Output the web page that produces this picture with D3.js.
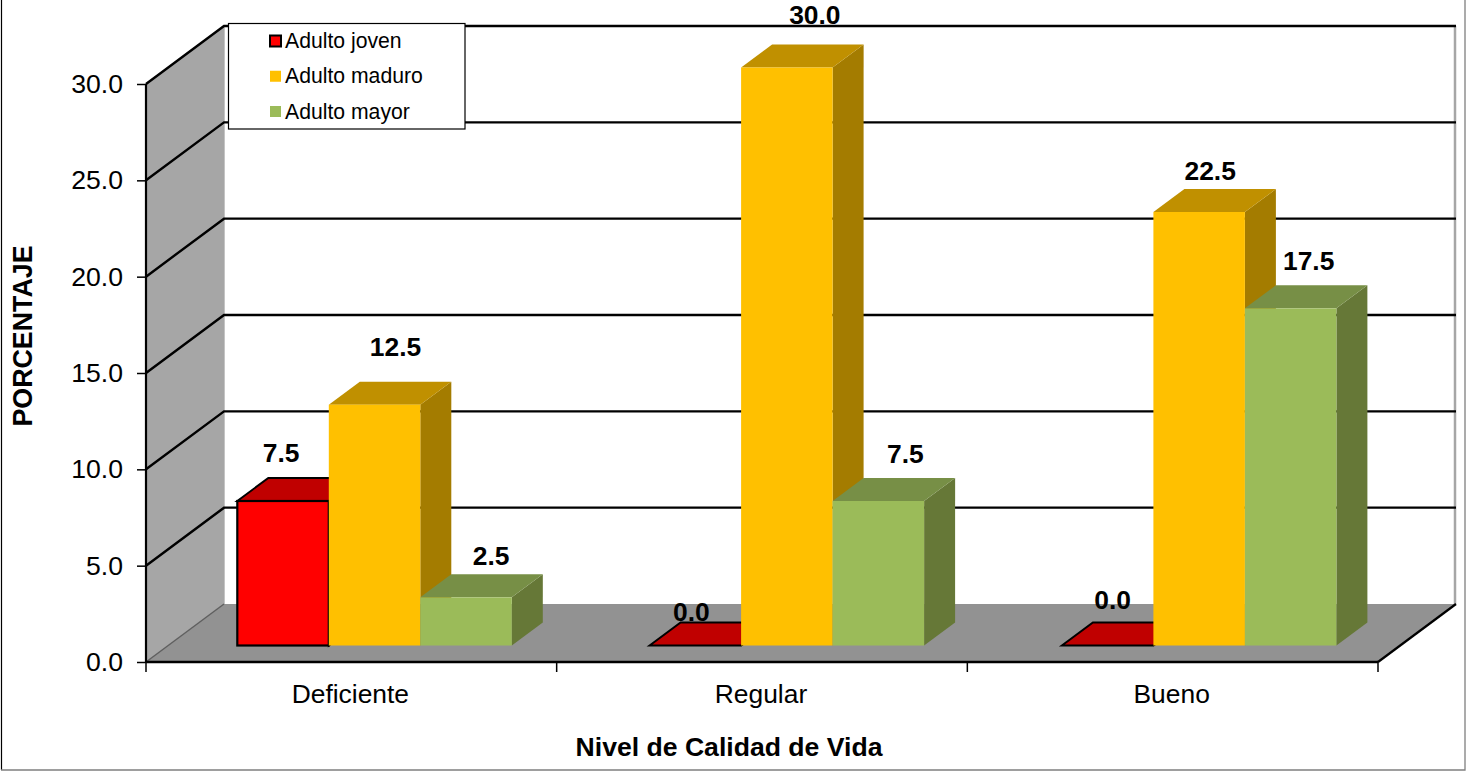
<!DOCTYPE html>
<html lang="es">
<head>
<meta charset="utf-8">
<title>Nivel de Calidad de Vida</title>
<script src="https://cdn.jsdelivr.net/npm/d3@7"></script>
<style>
  html, body { margin: 0; padding: 0; background: #fff; }
  svg { display: block; }
  text { font-family: "Liberation Sans", Arial, sans-serif; fill: #000; }
</style>
</head>
<body>
<svg id="chart" width="1466" height="771"></svg>
<script>
// Percentages by quality-of-life level and age group
const categories = ["Deficiente", "Regular", "Bueno"];
const seriesNames = ["Adulto joven", "Adulto maduro", "Adulto mayor"];
const adultoJoven = [7.5, 0.0, 0.0];
const adultoMaduro = [12.5, 30.0, 22.5];
const adultoMayor = [2.5, 7.5, 17.5];
const seriesValues = [adultoJoven, adultoMaduro, adultoMayor];
const yTicks = [0, 5, 10, 15, 20, 25, 30];

// Face shades for each series: front, top, side
const faceColors = [
  { front: "#FF0000", top: "#C00000", side: "#A00000" },
  { front: "#FFC000", top: "#C09000", side: "#A47C00" },
  { front: "#9BBB59", top: "#778F46", side: "#667837" }
];

// Hand-placed label offsets from the centre of each bar's front face
const labelShift = [
  [[-2, -39], [21, -48.5], [25, -32]],
  [[-4, -25], [28, -44], [27, -38]],
  [[5, -37], [11, -32], [18, -38]]
];

// Oblique projection: the full chart depth and the depth of one bar
const depth = { dx: 78, dy: -58 };
const barDepth = { dx: 31, dy: -23 };
const barInset = { dy: -16.5 };

const plot = { left: 146, right: 1378, bottom: 662, top: 84 };

const y = d3.scaleLinear().domain([0, 30]).range([plot.bottom, plot.top]);
const xCat = d3.scaleBand().domain(categories).range([plot.left, plot.right]);
// Bars sit inset on the floor, so their groups use a slightly wider band than the axis
const xGroup = d3.scaleBand().domain(categories).range([168.4, 168.4 + 3 * 412.3]);
const xBar = d3.scaleBand().domain(d3.range(seriesNames.length))
  .range([0, xGroup.bandwidth()]).paddingInner(0).paddingOuter(0.753);

const svg = d3.select("#chart");
const poly = pts => pts.map(p => p.join(",")).join(" ");

// Outer frame: dark on the left, grey on the right and bottom
svg.append("line").attr("x1", 1.5).attr("x2", 1.5).attr("y1", 0).attr("y2", 770)
  .attr("stroke", "#000").attr("stroke-width", 1.2);
svg.append("polyline").attr("points", poly([[1, 770], [1465, 770], [1465, 0]]))
  .attr("fill", "none").attr("stroke", "#7f7f7f").attr("stroke-width", 1.3);

// Back wall, side wall and floor
const [x0, x1] = [plot.left, plot.right];
const [y0, y30] = [y(0), y(30)];
svg.append("polygon")
  .attr("points", poly([[x0 + depth.dx, y30 + depth.dy], [x1 + depth.dx, y30 + depth.dy],
    [x1 + depth.dx, y0 + depth.dy], [x0 + depth.dx, y0 + depth.dy]]))
  .attr("fill", "#fff");
svg.append("polyline")
  .attr("points", poly([[x0 + depth.dx, y0 + depth.dy], [x0 + depth.dx, y30 + depth.dy]]))
  .attr("fill", "none").attr("stroke", "#c4c4c4").attr("stroke-width", 2);
svg.append("line")
  .attr("x1", x1 + depth.dx - 1).attr("x2", x1 + depth.dx - 1)
  .attr("y1", y30 + depth.dy).attr("y2", y0 + depth.dy)
  .attr("stroke", "#a6a6a6").attr("stroke-width", 2.5);
svg.append("polygon")
  .attr("points", poly([[x0, y30], [x0 + depth.dx, y30 + depth.dy],
    [x0 + depth.dx, y0 + depth.dy], [x0, y0]]))
  .attr("fill", "#A6A6A6");
svg.append("polygon")
  .attr("points", poly([[x0, y0], [x0 + depth.dx, y0 + depth.dy],
    [x1 + depth.dx, y0 + depth.dy], [x1, y0]]))
  .attr("fill", "#929292");
svg.append("line")
  .attr("x1", x0).attr("y1", y0).attr("x2", x0 + depth.dx).attr("y2", y0 + depth.dy)
  .attr("stroke", "#5f5f5f").attr("stroke-width", 1.5);

// Gridlines run along the side wall and across the back wall
const grid = svg.append("g").attr("fill", "none").attr("stroke", "#000").attr("stroke-width", 2.4);
yTicks.filter(t => t > 0).forEach(t => {
  grid.append("polyline").attr("points", poly([[x0, y(t)], [x0 + depth.dx, y(t) + depth.dy],
    [x1 + depth.dx, y(t) + depth.dy]]));
});

// Front edges of the floor and the side wall
svg.append("line").attr("x1", x0).attr("x2", x1).attr("y1", y0).attr("y2", y0)
  .attr("stroke", "#000").attr("stroke-width", 2.5);
svg.append("line").attr("x1", x1).attr("y1", y0).attr("x2", x1 + depth.dx).attr("y2", y0 + depth.dy)
  .attr("stroke", "#000").attr("stroke-width", 2.2);
svg.append("line").attr("x1", x0).attr("x2", x0).attr("y1", y30).attr("y2", y0)
  .attr("stroke", "#000").attr("stroke-width", 2.2);

// Value axis
const yAxis = svg.append("g").attr("transform", `translate(${x0},0)`)
  .call(d3.axisLeft(y).tickValues(yTicks).tickFormat(d3.format(".1f")).tickSize(9).tickPadding(14));
yAxis.select(".domain").remove();
yAxis.selectAll("line").attr("stroke", "#000").attr("stroke-width", 1.5);
yAxis.selectAll("text").attr("font-size", 26.6).style("font-family", '"Liberation Sans", Arial, sans-serif');

// Category axis: ticks mark the category boundaries
const xTicks = svg.append("g");
d3.range(categories.length + 1).forEach(i => {
  const px = x0 + i * xCat.step();
  xTicks.append("line").attr("x1", px).attr("x2", px).attr("y1", y0).attr("y2", y0 + 10)
    .attr("stroke", "#000").attr("stroke-width", 1.5);
});
svg.append("g").selectAll("text").data(categories).join("text")
  .attr("x", d => xCat(d) + xCat.bandwidth() / 2 - 1)
  .attr("y", 703).attr("text-anchor", "middle").attr("font-size", 26.4).text(d => d);

// Bars, drawn left to right so each one overlaps its neighbour's side face
const barsLayer = svg.append("g");
const labelsLayer = svg.append("g");
categories.forEach((cat, c) => {
  seriesNames.forEach((name, s) => {
    const v = seriesValues[s][c];
    const w = xBar.bandwidth();
    const left = xGroup(cat) + xBar(s);
    const right = left + w;
    const base = y(0) + barInset.dy;
    const top = base - (y(0) - y(v));
    const col = faceColors[s];
    const outlined = s === 0;
    const g = barsLayer.append("g")
      .attr("stroke-linejoin", "miter");
    const edge = outlined ? "#000" : "none";

    g.append("polygon")
      .attr("points", poly([[right, top], [right + barDepth.dx, top + barDepth.dy],
        [right + barDepth.dx, base + barDepth.dy], [right, base]]))
      .attr("fill", col.side).attr("stroke", edge).attr("stroke-width", 2);
    g.append("polygon")
      .attr("points", poly([[left, top], [left + barDepth.dx, top + barDepth.dy],
        [right + barDepth.dx, top + barDepth.dy], [right, top]]))
      .attr("fill", col.top).attr("stroke", edge).attr("stroke-width", 2);
    if (v > 0) {
      g.append("rect").attr("x", left).attr("y", top).attr("width", w).attr("height", base - top)
        .attr("fill", col.front).attr("stroke", edge).attr("stroke-width", 2.2);
    }

    const [sx, sy] = labelShift[c][s];
    labelsLayer.append("text")
      .attr("x", (left + right) / 2 + sx).attr("y", top + sy)
      .attr("text-anchor", "middle").attr("font-size", 26.4).attr("font-weight", "bold")
      .text(d3.format(".1f")(v));
  });
});

// Axis titles
svg.append("text").attr("x", 729).attr("y", 756).attr("text-anchor", "middle")
  .attr("font-size", 26.6).attr("font-weight", "bold").text("Nivel de Calidad de Vida");
svg.append("text").attr("transform", "translate(32,336) rotate(-90)").attr("text-anchor", "middle")
  .attr("font-size", 26.8).attr("font-weight", "bold").text("PORCENTAJE");

// Legend
const legend = svg.append("g");
legend.append("rect").attr("x", 228.5).attr("y", 23.5).attr("width", 236.5).attr("height", 105.5)
  .attr("fill", "#fff").attr("stroke", "#000").attr("stroke-width", 1.2);
const legendY = d3.scalePoint().domain(seriesNames).range([41, 111.5]);
seriesNames.forEach((name, s) => {
  const ly = legendY(name);
  legend.append("rect").attr("x", 270).attr("y", ly - 5.5).attr("width", 11).attr("height", 11)
    .attr("fill", faceColors[s].front)
    .attr("stroke", s === 0 ? "#000" : "none").attr("stroke-width", 2);
  legend.append("text").attr("x", 285).attr("y", ly + 7).attr("font-size", 21.2).text(name);
});
</script>
</body>
</html>
